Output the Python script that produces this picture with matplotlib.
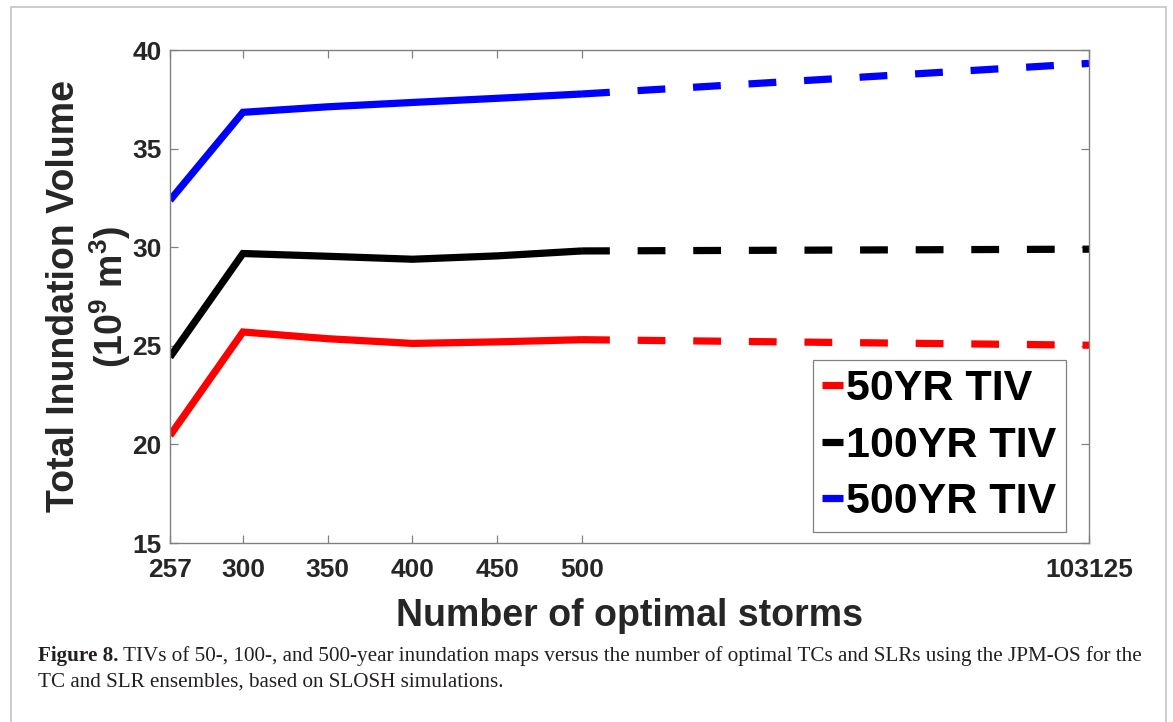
import numpy as np
import matplotlib
matplotlib.use('Agg')
import matplotlib.pyplot as plt
from matplotlib.lines import Line2D
from matplotlib.patches import Rectangle

# === DADOS ===
n_storms = [257, 300, 350, 400, 450, 500]
n_storms_ext = [500, 103125]
tiv_50 = [20.45, 25.70, 25.36, 25.12, 25.20, 25.31]
tiv_100 = [24.43, 29.68, 29.54, 29.39, 29.56, 29.81]
tiv_500 = [32.38, 36.84, 37.12, 37.34, 37.55, 37.77]
tiv_50_ext = [25.31, 25.03]
tiv_100_ext = [29.81, 29.90]
tiv_500_ext = [37.77, 39.32]
labels = ['50YR TIV', '100YR TIV', '500YR TIV']
x_ticks = [257, 300, 350, 400, 450, 500, 103125]
y_ticks = [15, 20, 25, 30, 35, 40]
caption_bold = 'Figure 8.'
caption_1 = ('TIVs of 50-, 100-, and 500-year inundation maps versus the number '
             'of optimal TCs and SLRs using the JPM-OS for the')
caption_2 = 'TC and SLR ensembles, based on SLOSH simulations.'

# === ESTILO ===
plt.rcParams['font.family'] = ['Liberation Sans', 'DejaVu Sans']
plt.rcParams['font.weight'] = 'bold'
plt.rcParams['axes.labelweight'] = 'bold'
plt.rcParams['mathtext.fontset'] = 'custom'
plt.rcParams['mathtext.rm'] = 'Liberation Sans:bold'
plt.rcParams['mathtext.it'] = 'Liberation Sans:bold'
plt.rcParams['mathtext.bf'] = 'Liberation Sans:bold'

W, H = 1173, 722
fig = plt.figure(figsize=(W / 100, H / 100), dpi=100)

# eixo x quebrado: linear ate 500, depois comprimido ate 103125
BREAK = 500
K = 299.0 / (103125 - BREAK)


def fwd(x):
    x = np.asarray(x, dtype=float)
    return np.where(x <= BREAK, x, BREAK + (x - BREAK) * K)


def inv(x):
    x = np.asarray(x, dtype=float)
    return np.where(x <= BREAK, x, BREAK + (x - BREAK) / K)


ax = fig.add_axes([170 / W, 1 - 543 / H, 919 / W, 493 / H])
ax.set_xscale('function', functions=(fwd, inv))

colors = ['#ff0000', '#000000', '#0000ff']
series = [tiv_50, tiv_100, tiv_500]
series_ext = [tiv_50_ext, tiv_100_ext, tiv_500_ext]
for c, y, ye in zip(colors, series, series_ext):
    ax.plot(n_storms, y, color=c, lw=5.2, solid_capstyle='butt', solid_joinstyle='miter')
    ax.plot(n_storms_ext, ye, color=c, lw=5.2, linestyle=(0, (3.85, 3.85)),
            dash_capstyle='butt')

ax.set_xlim(257, 103125)
ax.set_ylim(15, 40)
ax.set_xticks(x_ticks)
ax.set_xticklabels([str(v) for v in x_ticks])
ax.set_yticks(y_ticks)
ax.minorticks_off()

for s in ax.spines.values():
    s.set_color('#808080')
    s.set_linewidth(1.0)
ax.tick_params(direction='in', length=6, width=0.9, color='#808080',
               top=True, right=True, labelsize=19, labelcolor='#262626')
ax.tick_params(axis='x', pad=11)
ax.tick_params(axis='y', pad=6)

ax.set_xlabel('Number of optimal storms', fontsize=27, fontweight='bold',
              color='#262626')
ax.xaxis.set_label_coords(0.5, -0.112)
ax.set_ylabel('Total Inundation Volume\n(10$^9$ m$^3$)', fontsize=27,
              fontweight='bold', color='#262626', linespacing=1.15)
ax.yaxis.set_label_coords(-0.040, 0.5)

handles = [Line2D([], [], color=c, lw=5.2, solid_capstyle='butt') for c in colors]
leg = ax.legend(handles, labels, loc='lower right', bbox_to_anchor=(0.975, 0.023),
                borderaxespad=0, prop={'size': 31, 'weight': 'bold'},
                handlelength=0.49, handletextpad=0.07, labelspacing=0.38,
                borderpad=0.22, fancybox=False, framealpha=1, edgecolor='#808080')
leg.get_frame().set_linewidth(0.9)

# === MOLDURA E LEGENDA DA FIGURA ===
fig.patches.append(Rectangle((11 / W, -0.1), (1166 - 11) / W, 1.1 - 7 / H,
                             transform=fig.transFigure, fill=False,
                             edgecolor='#c8c8c8', lw=1.3))

fig.canvas.draw()
r = fig.canvas.get_renderer()
cap_kw = dict(family='Liberation Serif', fontsize=15.2, color='#231f20', va='baseline')
t1 = fig.text(38 / W, 1 - 661 / H, caption_bold, fontweight='bold', **cap_kw)
bb = t1.get_window_extent(r)
fig.text((bb.x1 + 5) / W, 1 - 661 / H, caption_1, fontweight='normal', **cap_kw)
fig.text(38 / W, 1 - 687 / H, caption_2, fontweight='normal', **cap_kw)

fig.savefig('out.png', dpi=100)
